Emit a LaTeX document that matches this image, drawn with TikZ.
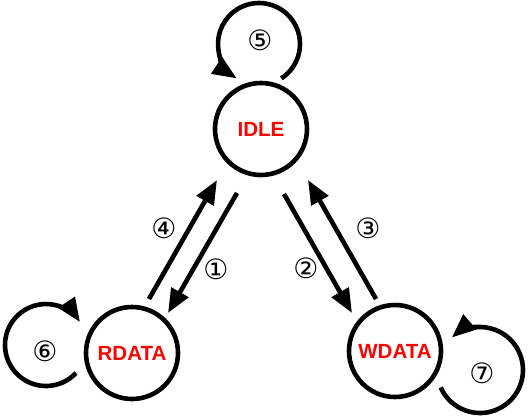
\documentclass[tikz,border=0pt]{standalone}
\usepackage{fontspec}
\setmainfont{Liberation Sans}
\newfontfamily\circfont{DejaVu Sans}
\usetikzlibrary{arrows.meta}
\begin{document}
\begin{tikzpicture}[x=1pt,y=-1pt,
  state/.style={circle,draw=black,line width=4.6pt,minimum size=92pt,inner sep=0pt,
    text=red,font=\fontsize{20.5}{20.5}\selectfont\bfseries},
  conn/.style={line width=4.6pt,-{Triangle[length=24pt,width=19pt]}},
  loopc/.style={line width=4.6pt,-{Triangle[length=24pt,width=19pt]}},
  lbl/.style={inner sep=0pt,font=\circfont\fontsize{28}{28}\selectfont}]
\useasboundingbox (0,0) rectangle (528,416);
\node[state] (IDLE) at (261,129) {IDLE};
\node[state] (RDATA) at (132,353) {RDATA};
\node[state] (WDATA) at (395,351) {WDATA};
% straight connectors
\coordinate (a4s) at (149,299); \coordinate (a4e) at (217,180);
\coordinate (a1s) at (237,193); \coordinate (a1e) at (168,313);
\coordinate (a2s) at (284,194); \coordinate (a2e) at (352,313);
\coordinate (a3s) at (376,299); \coordinate (a3e) at (308,180);
\draw[conn] (a4s) -- (a4e);
\draw[conn] (a1s) -- (a1e);
\draw[conn] (a2s) -- (a2e);
\draw[conn] (a3s) -- (a3e);
% self loops
\draw[loopc] (259,44) ++(57:41) coordinate (l5s) arc[start angle=57,end angle=-237,radius=41];
\draw[loopc] (46,345) ++(43:41) coordinate (l6s) arc[start angle=43,end angle=326,radius=41];
\draw[loopc] (480,370) ++(156:43) coordinate (l7s) arc[start angle=156,end angle=-131,radius=43];
% labels
\node[lbl] (n5) at (260,40) {⑤};
\node[lbl] (n6) at (45,351) {⑥};
\node[lbl] (n7) at (482,373) {⑦};
\node[lbl] (n4) at (164,228) {④};
\node[lbl] (n1) at (216,269) {①};
\node[lbl] (n2) at (306,268) {②};
\node[lbl] (n3) at (368,228) {③};
\end{tikzpicture}
\end{document}
